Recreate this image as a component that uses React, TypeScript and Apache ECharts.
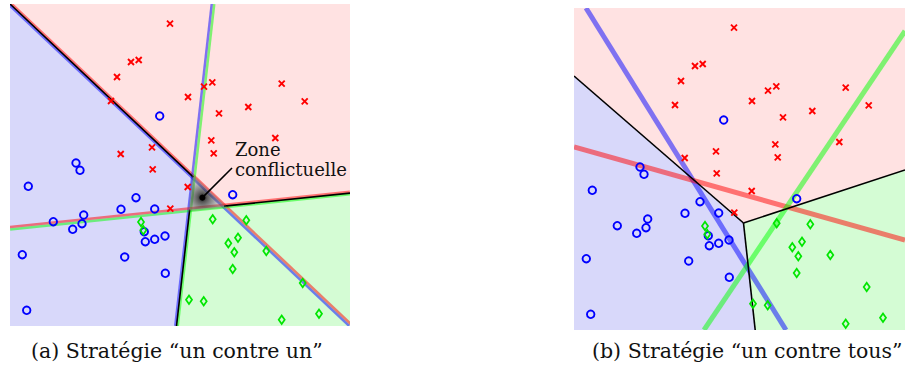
import React, { useEffect, useRef } from "react";
import * as echarts from "echarts";

// ---- Data (units: pixels of panel (a), y downward) ----
const redPts: number[][] = [
  [160, 19.7], [121, 58], [128.7, 56], [107, 73], [202.3, 78.3], [194, 82.7],
  [271.7, 79.7], [178, 93], [294.7, 97.3], [238.3, 103], [209, 109.3], [101, 97],
  [265.3, 134], [201.3, 136.3], [203.7, 149.3], [110.7, 150], [142, 143.3],
  [142.7, 165.3], [177.7, 183], [160.3, 204.7],
];
const bluePts: number[][] = [
  [149.7, 112], [66, 159], [70, 166.3], [18.3, 182.3], [126, 193.7], [222.7, 190.7],
  [111, 205.3], [144.7, 205], [73.7, 211], [43.3, 217.7], [72, 219.7], [62.7, 225.3],
  [134.3, 227.7], [155, 232], [144.7, 235.3], [135.3, 237.7], [12.3, 250.7],
  [114.7, 253], [155.3, 269.3], [16.7, 306.3],
];
const greenPts: number[][] = [
  [131, 218], [133.3, 226.3], [202.7, 215.3], [236.3, 216.3], [228, 233.7],
  [218.3, 239.3], [224.3, 248.3], [256.3, 247], [222.7, 265], [292.7, 279],
  [179, 295.7], [193.7, 297.3], [309, 309.7], [271.7, 315.7],
];

// Panel (a): pairwise ("un contre un") classifiers [x1, y1, x2, y2]
const lineRedBlue = [0, 0, 340, 321];
const lineBlueGreen = [203, 0, 166.5, 322];
const lineRedGreen = [0, 224.3, 340, 189.1];

// Panel (b): one-vs-all ("un contre tous") classifiers
const allBlue = [12, 0, 212, 322];
const allRed = [0, 139, 331, 232];
const allGreen = [130, 322, 331, 23];
const bVertex = [169.5, 215];
const bLeftEnd = [0, 68];
const bRightEnd = [331, 162];
const bBottomEnd = [181.2, 322];

// Annotation end point of the leader line
const annotEnd = [222, 164];

const captionA = "(a) Stratégie “un contre un”";
const captionB = "(b) Stratégie “un contre tous”";
const annotLines = ["Zone", "conflictuelle"];

// ---- Styles ----
const C_BLUE_REG = "#d8d8fa";
const C_RED_REG = "#ffe2e2";
const C_GREEN_REG = "#d4fcd4";
const L_BLUE = "rgba(0,0,255,0.5)";
const L_RED = "rgba(255,0,0,0.5)";
const L_GREEN = "rgba(0,255,0,0.5)";

function intersect(l1: number[], l2: number[]) {
  const [x1, y1, x2, y2] = l1;
  const [x3, y3, x4, y4] = l2;
  const d = (x1 - x2) * (y3 - y4) - (y1 - y2) * (x3 - x4);
  const a = x1 * y2 - y1 * x2;
  const b = x3 * y4 - y3 * x4;
  return [(a * (x3 - x4) - (x1 - x2) * b) / d, (a * (y3 - y4) - (y1 - y2) * b) / d];
}

export default function App() {
  const ref = useRef<HTMLDivElement>(null);
  useEffect(() => {
    document.body.style.margin = "0";
    const chart = echarts.init(ref.current!, null, { renderer: "svg" });

    const pRB_BG = intersect(lineRedBlue, lineBlueGreen);
    const pRB_RG = intersect(lineRedBlue, lineRedGreen);
    const pBG_RG = intersect(lineBlueGreen, lineRedGreen);
    const aW = 340, aH = 322, bW = 331;
    const bgEnd = [lineBlueGreen[2], lineBlueGreen[3]];
    const rgEnd = [lineRedGreen[2], lineRedGreen[3]];

    const polysA = [
      { pts: [[0, 0], pRB_BG, pBG_RG, bgEnd, [0, aH]], fill: C_BLUE_REG },
      { pts: [[0, 0], [aW, 0], rgEnd, pRB_RG, pRB_BG], fill: C_RED_REG },
      { pts: [pBG_RG, pRB_RG, rgEnd, [aW, aH], bgEnd], fill: C_GREEN_REG },
    ];
    const polysB = [
      { pts: [bLeftEnd, bVertex, bBottomEnd, [0, aH]], fill: C_BLUE_REG },
      { pts: [[0, 0], [bW, 0], bRightEnd, bVertex, bLeftEnd], fill: C_RED_REG },
      { pts: [bVertex, bRightEnd, [bW, aH], bBottomEnd], fill: C_GREEN_REG },
    ];

    const polySeries = (polys: any[], idx: number) => ({
      type: "custom",
      xAxisIndex: idx,
      yAxisIndex: idx,
      clip: true,
      silent: true,
      data: polys.map((p) => p.pts[0]),
      renderItem: (params: any, api: any) => {
        const p = polys[params.dataIndex];
        return {
          type: "polygon",
          shape: { points: p.pts.map((q: number[]) => api.coord(q)) },
          style: { fill: p.fill, stroke: null },
        };
      },
    });

    // two-tone lines: plus side / minus side (normal = (-dy, dx))
    const twoTone = [
      { seg: lineRedBlue, plus: L_BLUE, minus: L_RED },
      { seg: lineBlueGreen, plus: L_BLUE, minus: L_GREEN },
      { seg: lineRedGreen, plus: L_GREEN, minus: L_RED },
    ];
    const twoToneSeries = {
      type: "custom",
      xAxisIndex: 0,
      yAxisIndex: 0,
      clip: true,
      silent: true,
      data: twoTone.map((t) => [t.seg[0], t.seg[1]]),
      renderItem: (params: any, api: any) => {
        const t = twoTone[params.dataIndex];
        const a = api.coord([t.seg[0], t.seg[1]]);
        const b = api.coord([t.seg[2], t.seg[3]]);
        const dx = b[0] - a[0], dy = b[1] - a[1];
        const len = Math.hypot(dx, dy);
        const nx = -dy / len, ny = dx / len;
        const o = 1.25;
        const mk = (s: number, col: string) => ({
          type: "line",
          shape: { x1: a[0] + s * nx * o, y1: a[1] + s * ny * o, x2: b[0] + s * nx * o, y2: b[1] + s * ny * o },
          style: { stroke: col, lineWidth: 2.5 },
        });
        return { type: "group", children: [mk(1, t.plus), mk(-1, t.minus)] };
      },
    };

    const segSeries = (segs: { a: number[]; b: number[]; col: string; w: number }[], idx: number) => ({
      type: "custom",
      xAxisIndex: idx,
      yAxisIndex: idx,
      clip: true,
      silent: true,
      data: segs.map((s) => s.a),
      renderItem: (params: any, api: any) => {
        const s = segs[params.dataIndex];
        const p = api.coord(s.a), q = api.coord(s.b);
        return {
          type: "line",
          shape: { x1: p[0], y1: p[1], x2: q[0], y2: q[1] },
          style: { stroke: s.col, lineWidth: s.w, lineCap: "butt" },
        };
      },
    });

    const blackA = [
      { a: [0, 0], b: pRB_BG, col: "#000", w: 1.6 },
      { a: pBG_RG, b: bgEnd, col: "#000", w: 1.6 },
      { a: pRB_RG, b: rgEnd, col: "#000", w: 1.6 },
    ];
    const coloredB = [
      { a: [allBlue[0], allBlue[1]], b: [allBlue[2], allBlue[3]], col: L_BLUE, w: 5 },
      { a: [allRed[0], allRed[1]], b: [allRed[2], allRed[3]], col: L_RED, w: 5 },
      { a: [allGreen[0], allGreen[1]], b: [allGreen[2], allGreen[3]], col: L_GREEN, w: 5 },
    ];
    const blackB = [
      { a: bLeftEnd, b: bVertex, col: "#000", w: 1.6 },
      { a: bVertex, b: bRightEnd, col: "#000", w: 1.6 },
      { a: bVertex, b: bBottomEnd, col: "#000", w: 1.6 },
    ];

    const tri = [pRB_BG, pRB_RG, pBG_RG];
    const centroid = [
      (tri[0][0] + tri[1][0] + tri[2][0]) / 3,
      (tri[0][1] + tri[1][1] + tri[2][1]) / 3,
    ];
    const conflictSeries = {
      type: "custom",
      xAxisIndex: 0,
      yAxisIndex: 0,
      clip: true,
      silent: true,
      data: [centroid],
      renderItem: (params: any, api: any) => {
        const pts = tri.map((q) => api.coord(q));
        const c = api.coord(centroid);
        const e = api.coord(annotEnd);
        const grad = new echarts.graphic.RadialGradient(c[0], c[1], 20, [
          { offset: 0, color: "rgba(0,0,0,0.95)" },
          { offset: 0.25, color: "rgba(40,40,40,0.75)" },
          { offset: 1, color: "rgba(130,130,130,0.3)" },
        ], true);
        return {
          type: "group",
          children: [
            { type: "polygon", shape: { points: pts }, style: { fill: grad, stroke: "rgba(110,110,110,0.35)", lineWidth: 3 } },
            { type: "line", shape: { x1: c[0], y1: c[1], x2: e[0], y2: e[1] }, style: { stroke: "#000", lineWidth: 1.6 } },
            { type: "circle", shape: { cx: c[0], cy: c[1], r: 3 }, style: { fill: "#000" } },
          ],
        };
      },
    };

    const scatter = (idx: number) => [
      {
        type: "scatter", xAxisIndex: idx, yAxisIndex: idx, data: bluePts, symbol: "circle", symbolSize: 7.5,
        itemStyle: { color: "rgba(0,0,0,0)", borderColor: "#0000ff", borderWidth: 1.9, opacity: 1 },
        silent: true,
      },
      {
        type: "scatter", xAxisIndex: idx, yAxisIndex: idx, data: greenPts, symbol: "diamond", symbolSize: [6, 8.5],
        itemStyle: { color: "rgba(0,0,0,0)", borderColor: "#00e600", borderWidth: 1.8, opacity: 1 },
        silent: true,
      },
      {
        type: "scatter", xAxisIndex: idx, yAxisIndex: idx, data: redPts, symbol: "path://M0 0L10 10M10 0L0 10", symbolSize: 6,
        itemStyle: { color: "#ff0000", borderColor: "#ff0000", borderWidth: 1.9, opacity: 1 },
        silent: true,
      },
    ];

    const font = "DejaVu Serif";
    chart.setOption({
      animation: false,
      backgroundColor: "#ffffff",
      grid: [
        { left: 10, top: 4, width: aW, height: aH },
        { left: 574, top: 8, width: bW, height: aH },
      ],
      xAxis: [
        { type: "value", gridIndex: 0, min: 0, max: aW, show: false },
        { type: "value", gridIndex: 1, min: 0, max: bW, show: false },
      ],
      yAxis: [
        { type: "value", gridIndex: 0, min: 0, max: aH, inverse: true, show: false },
        { type: "value", gridIndex: 1, min: 0, max: aH, inverse: true, show: false },
      ],
      graphic: [
        { type: "text", left: 31, top: 340, z: 10, style: { text: captionA, font: `20.5px '${font}'`, fill: "#111" } },
        { type: "text", left: 592, top: 340, z: 10, style: { text: captionB, font: `20.5px '${font}'`, fill: "#111" } },
        { type: "text", left: 235, top: 140, z: 10, style: { text: annotLines[0], font: `18px '${font}'`, fill: "#111" } },
        { type: "text", left: 235, top: 160, z: 10, style: { text: annotLines[1], font: `18px '${font}'`, fill: "#111" } },
      ],
      series: [
        polySeries(polysA, 0),
        polySeries(polysB, 1),
        ...scatter(0),
        ...scatter(1),
        twoToneSeries,
        segSeries(coloredB, 1),
        segSeries(blackA, 0),
        segSeries(blackB, 1),
        conflictSeries,
      ],
    });
    return () => chart.dispose();
  }, []);
  return <div ref={ref} style={{ position: "fixed", left: 0, top: 0, width: 905, height: 373 }} />;
}
